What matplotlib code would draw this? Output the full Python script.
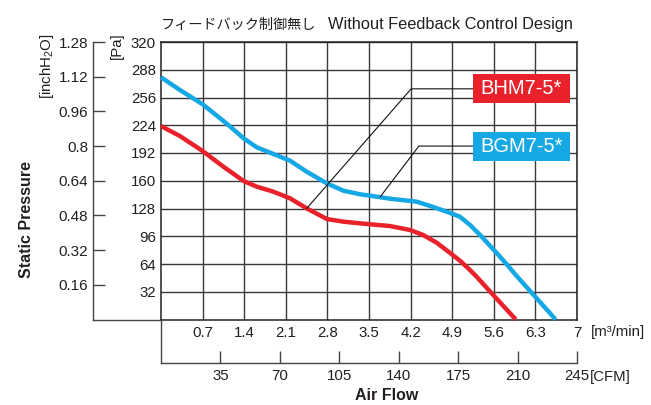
import matplotlib
matplotlib.use("Agg")
import matplotlib.pyplot as plt
from matplotlib import font_manager
from matplotlib.patches import Rectangle

""" P-Q curve, blower without feedback control """

#### data
flow_m3 = [0.7, 1.4, 2.1, 2.8, 3.5, 4.2, 4.9, 5.6, 6.3, 7]
flow_cfm = [35, 70, 105, 140, 175, 210, 245]
pa_ticks = [32, 64, 96, 128, 160, 192, 224, 256, 288, 320]
inch_ticks = [0.16, 0.32, 0.48, 0.64, 0.8, 0.96, 1.12, 1.28]

bgm_q = [0.0, 0.32, 0.7, 1.1, 1.39, 1.61, 1.89, 2.17, 2.45, 2.79, 3.07, 3.35, 3.52, 3.85, 4.3, 4.53, 4.81, 5.03, 5.2, 5.37, 5.65, 5.82, 5.98, 6.32, 6.64]
bgm_p = [279.3, 264.6, 248.2, 226.2, 209, 198.6, 190.9, 183.2, 170.5, 157, 148.5, 144.4, 142.8, 139.3, 135.9, 130.9, 124.3, 118.5, 109, 97.4, 76.5, 63.5, 50.5, 24.5, 0]

bhm_q = [0.0, 0.32, 0.7, 1.05, 1.39, 1.61, 1.89, 2.17, 2.45, 2.79, 3.07, 3.35, 3.52, 3.85, 4.19, 4.41, 4.64, 4.86, 5.03, 5.17, 5.31, 5.59, 5.97]
bhm_p = [223.1, 211.5, 194.3, 176.2, 159.7, 153.2, 147.4, 139.8, 128.2, 115.9, 112.8, 110.9, 109.8, 107.8, 103.2, 97.5, 88.5, 77, 67.8, 59, 49.4, 28.3, 0]

names = ['BHM7-5*', 'BGM7-5*']
red = '#e8212b'
blue = '#16a8e4'
ink = '#231f20'

W, H = 651.0, 405.0
def fx(px):
	return px / W
def fy(py):
	return 1 - py / H
def pt(px):
	return px * 72.0 / 100.0

avail = set(f.name for f in font_manager.fontManager.ttflist)
sans = 'Liberation Sans' if 'Liberation Sans' in avail else 'DejaVu Sans'
narrow = 'Liberation Sans Narrow' if 'Liberation Sans Narrow' in avail else sans
plt.rcParams['font.family'] = [sans, 'DejaVu Sans']
plt.rcParams['mathtext.fontset'] = 'custom'
plt.rcParams['mathtext.rm'] = sans

fig = plt.figure(figsize=(6.51, 4.05), dpi=100)

# main axes (m3/min vs Pa)
x0, x1, y0, y1 = 161, 577, 42, 319.5
ax = fig.add_axes([fx(x0), fy(y1), fx(x1) - fx(x0), fy(y0) - fy(y1)])
ax.set_xlim(0, 7)
ax.set_ylim(0, 320)
ax.set_xticks(flow_m3)
ax.set_yticks(pa_ticks)
ax.set_xticklabels([str(v) for v in flow_m3])
ax.set_yticklabels([str(v) for v in pa_ticks])
ax.grid(True, color='#3a3a3a', lw=1.0)
ax.tick_params(length=0, labelsize=10.8, colors=ink, pad=3.6)
ax.tick_params(axis='x', pad=4.5)
for s in ax.spines.values():
	s.set_color('#222222')
	s.set_linewidth(1.1)
ax.set_axisbelow(True)

ax.plot(bgm_q, bgm_p, color=blue, lw=3.2, solid_capstyle='butt', solid_joinstyle='round', clip_on=False, zorder=3)
ax.plot(bhm_q, bhm_p, color=red, lw=3.2, solid_capstyle='butt', solid_joinstyle='round', clip_on=False, zorder=3)

# leader lines and name boxes
ax.plot([2.45, 4.21, 5.25], [128, 266, 266], color='#111111', lw=0.8, zorder=4)
ax.plot([3.69, 4.34, 5.25], [141.6, 200, 200], color='#111111', lw=0.8, zorder=4)
for nm, c, yb in [(names[0], red, 249.7), (names[1], blue, 182.8)]:
	ax.add_patch(Rectangle((5.25, yb), 1.63, 33.4, facecolor=c, edgecolor='none', zorder=5, clip_on=False))
	ax.text(5.25 + 1.63 / 2, yb + 16.7, nm, color='white', fontsize=14.5, ha='center', va='center', zorder=6)

# inchH2O axis on the left
ai = fig.add_axes([fx(93), fy(y1), fx(x0) - fx(93), fy(y0) - fy(y1)])
ai.set_xlim(0, 1)
ai.set_ylim(0, 320 / 250.0)
ai.set_yticks(inch_ticks)
ai.set_yticklabels([str(v) for v in inch_ticks])
ai.set_xticks([])
ai.patch.set_visible(False)
for k in ['top', 'right']:
	ai.spines[k].set_visible(False)
for k in ['left', 'bottom']:
	ai.spines[k].set_color('#444444')
	ai.spines[k].set_linewidth(1.0)
ai.tick_params(axis='y', direction='in', length=pt(12), width=1.0, color='#444444', labelsize=11, labelcolor=ink, pad=3.6)

# CFM axis below
ac = fig.add_axes([fx(x0), fy(363), fx(x1) - fx(x0), fy(y1) - fy(363)])
ac.set_xlim(0, 245)
ac.set_ylim(0, 1)
ac.set_xticks(flow_cfm)
ac.set_xticklabels([str(v) for v in flow_cfm])
ac.set_yticks([])
ac.patch.set_visible(False)
for k in ['top', 'right']:
	ac.spines[k].set_visible(False)
for k in ['left', 'bottom']:
	ac.spines[k].set_color('#444444')
	ac.spines[k].set_linewidth(1.0)
ac.tick_params(axis='x', direction='in', length=pt(12), width=1.0, color='#444444', labelsize=10.8, labelcolor=ink, pad=4.5)

# texts
fig.text(fx(161), fy(25), 'フィードバック制御無し', family=['Noto Sans CJK JP', 'DejaVu Sans'], fontsize=10.2, color=ink, ha='left', va='center')
fig.text(fx(328), fy(25), 'Without Feedback Control Design', family=[narrow, 'DejaVu Sans'], fontsize=11.8, color=ink, ha='left', va='center')
fig.text(fx(117), fy(46), '[Pa]', rotation=90, fontsize=10.8, color=ink, ha='center', va='center')
fig.text(fx(47), fy(66), r'[inchH$_\mathregular{2}$O]', rotation=90, fontsize=10.8, color=ink, ha='center', va='center')
fig.text(fx(27), fy(220), 'Static Pressure', rotation=90, fontsize=11.5, fontweight='bold', color=ink, ha='center', va='center')
fig.text(fx(387), fy(396), 'Air Flow', fontsize=11.5, fontweight='bold', color=ink, ha='center', va='center')
fig.text(fx(591), fy(332), '[m³/min]', fontsize=10.8, color=ink, ha='left', va='center')
fig.text(fx(590), fy(377), '[CFM]', fontsize=10.8, color=ink, ha='left', va='center')

fig.savefig('out.png', dpi=100)
